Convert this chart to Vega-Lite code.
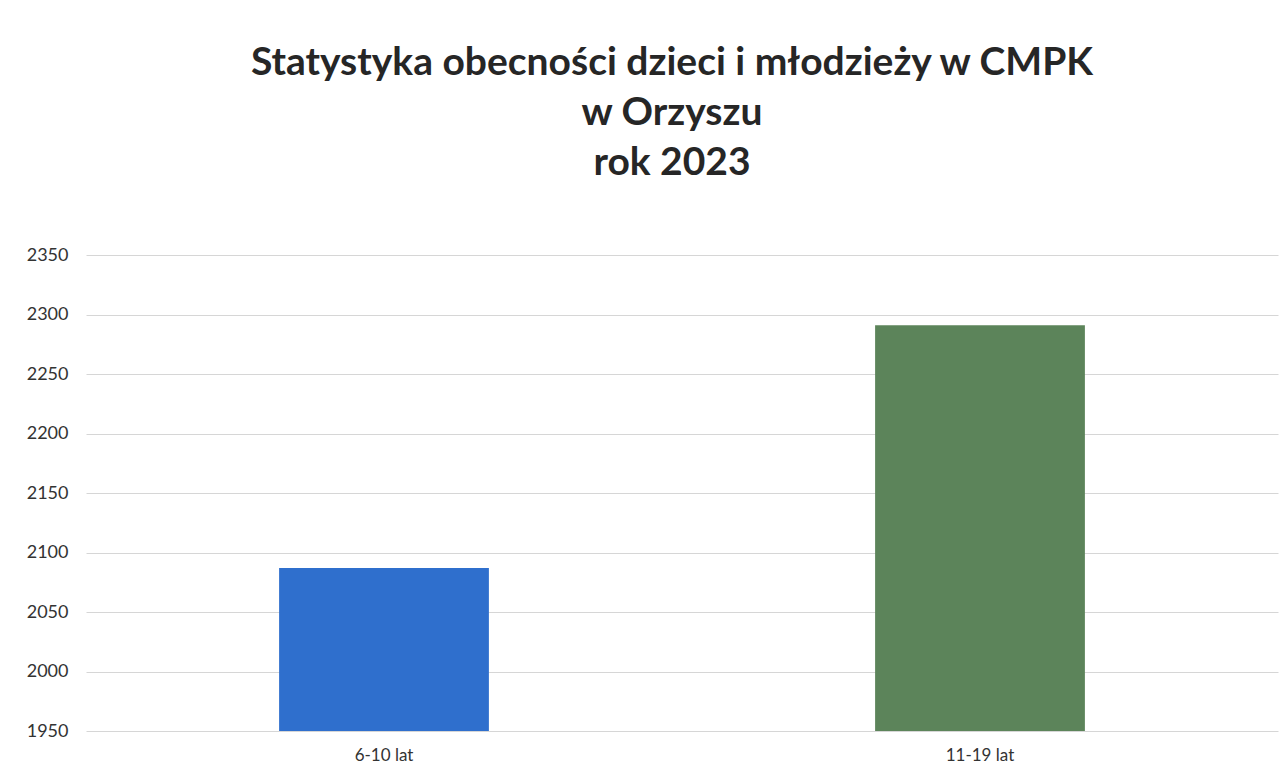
{
  "$schema": "https://vega.github.io/schema/vega-lite/v6.json",
  "width": 1192,
  "height": 476,
  "autosize": {"type": "none"},
  "padding": {"left": 86, "top": 255, "right": 10, "bottom": 45},
  "background": "white",
  "title": {
    "text": ["Statystyka obecności dzieci i młodzieży w CMPK", "w Orzyszu", "rok 2023"],
    "font": "Lato",
    "fontSize": 39,
    "fontWeight": "bold",
    "color": "#262626",
    "lineHeight": 50,
    "anchor": "middle",
    "dx": -10,
    "offset": 63
  },
  "data": {
    "values": [
      {"grupa": "6-10 lat", "obecnosci": 2087},
      {"grupa": "11-19 lat", "obecnosci": 2291}
    ]
  },
  "mark": {"type": "bar", "clip": true},
  "encoding": {
    "x": {
      "field": "grupa",
      "type": "nominal",
      "sort": null,
      "scale": {"paddingInner": 0.648, "paddingOuter": 0.324},
      "axis": {
        "title": null,
        "labelAngle": 0,
        "domain": false,
        "ticks": false,
        "labelFont": "Lato",
        "labelFontSize": 17,
        "labelColor": "#333333",
        "labelPadding": 16
      }
    },
    "y": {
      "field": "obecnosci",
      "type": "quantitative",
      "scale": {"domain": [1950, 2350], "zero": false, "nice": false},
      "axis": {
        "title": null,
        "format": "d",
        "values": [1950, 2000, 2050, 2100, 2150, 2200, 2250, 2300, 2350],
        "domain": false,
        "ticks": false,
        "labelFont": "Lato",
        "labelFontSize": 18,
        "labelColor": "#333333",
        "labelPadding": 18,
        "gridColor": "#d6d6d6",
        "gridWidth": 1
      }
    },
    "color": {
      "field": "grupa",
      "type": "nominal",
      "sort": null,
      "scale": {"domain": ["6-10 lat", "11-19 lat"], "range": ["#2f6fcd", "#5c845a"]},
      "legend": null
    }
  },
  "config": {"view": {"stroke": null}}
}
